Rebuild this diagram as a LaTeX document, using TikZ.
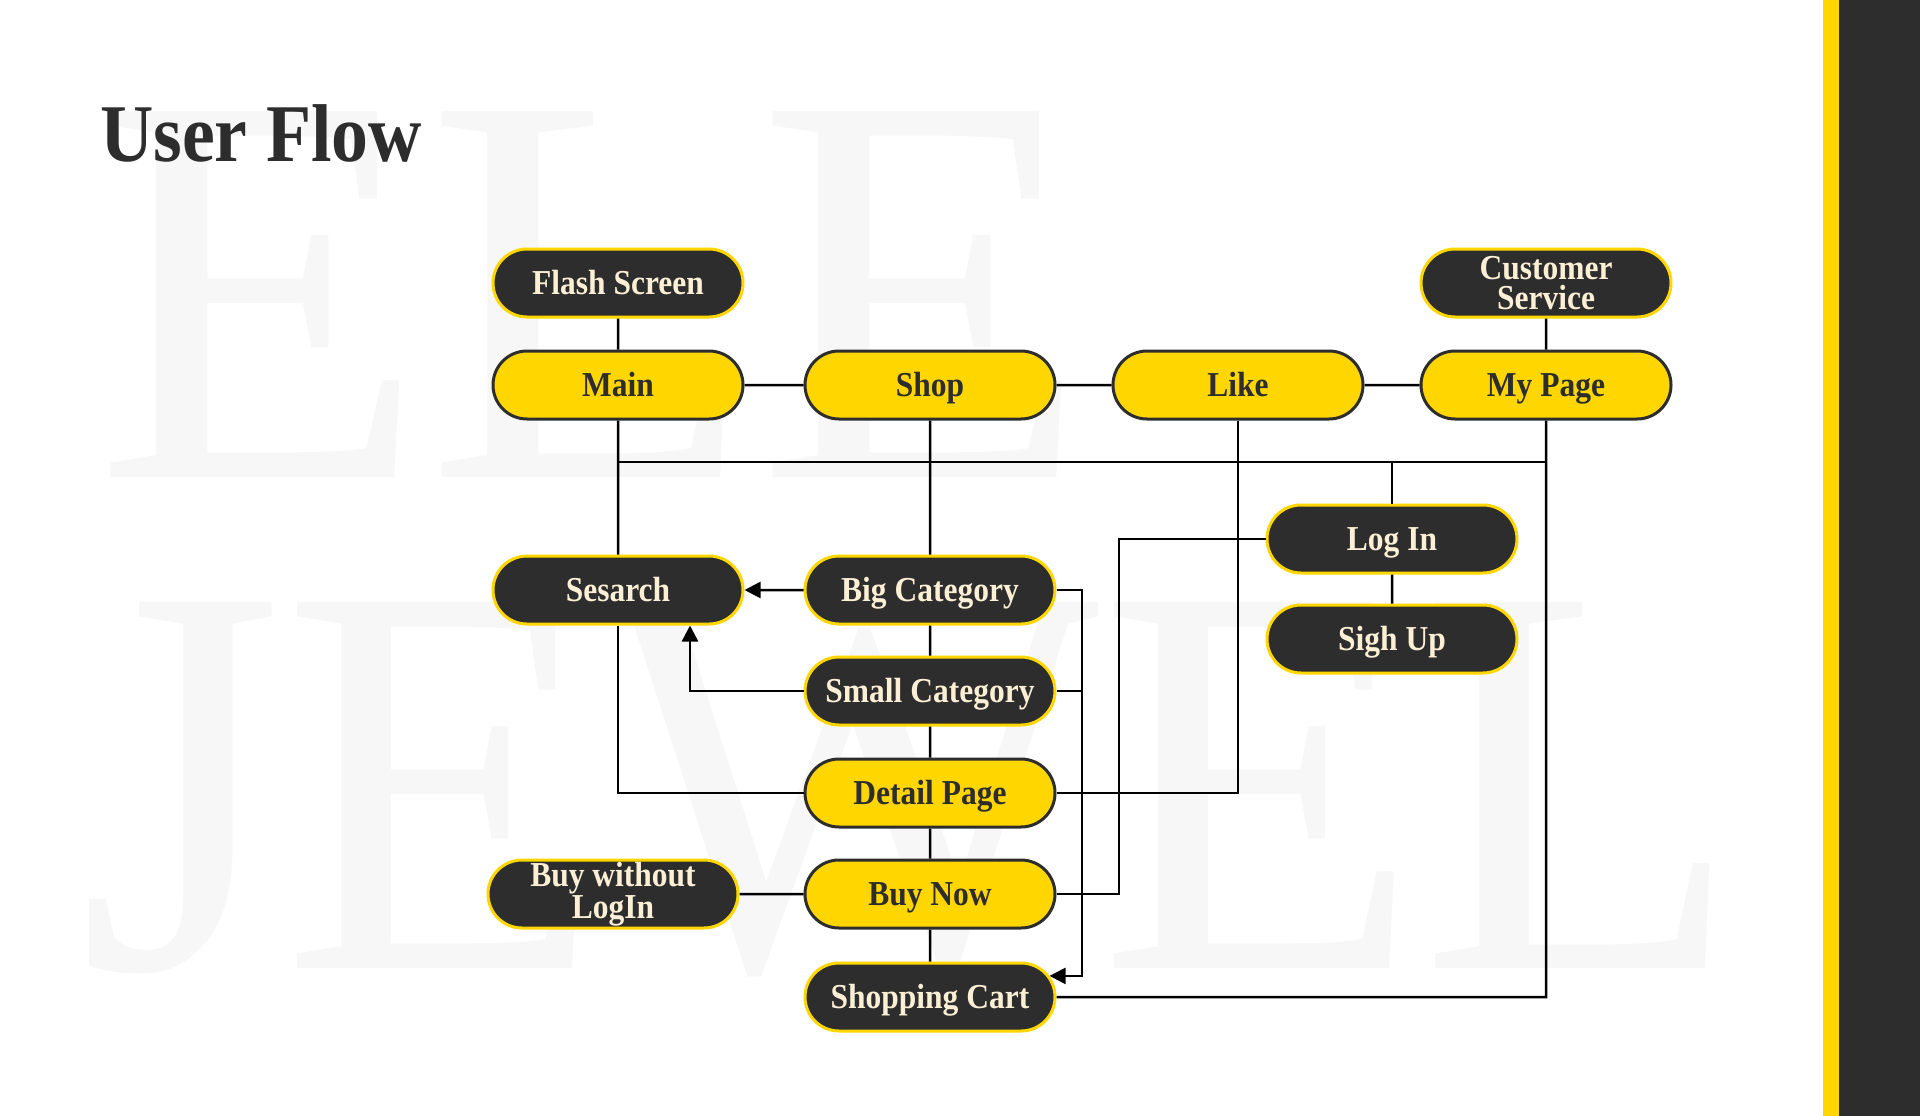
\documentclass[tikz,border=0pt]{standalone}
\usepackage{fontspec}
\setmainfont{Liberation Serif}
\newfontfamily\nodefont[FakeStretch=0.9]{Liberation Serif}
\newfontfamily\wmfontA[FakeStretch=0.97]{Liberation Serif}
\newfontfamily\wmfontB[FakeStretch=0.94]{Liberation Serif}
\usetikzlibrary{shapes.misc,arrows.meta}
\definecolor{ylw}{HTML}{FFD600}
\definecolor{drk}{HTML}{2D2D2D}
\definecolor{crm}{HTML}{FBEFD5}
\definecolor{wmk}{HTML}{F7F7F7}
\begin{document}
\begin{tikzpicture}[x=1pt,y=-1pt,
  base/.style={rounded rectangle, minimum width=250pt, minimum height=68pt, line width=3pt, inner sep=0pt,
    font=\nodefont\bfseries\fontsize{35}{30}\selectfont, align=center, text height=26pt, text depth=4pt},
  twoline/.style={text height=, text depth=},
  ybox/.style={base, fill=ylw, draw=drk, text=drk},
  dbox/.style={base, fill=drk, draw=ylw, text=crm},
  conn/.style={line width=2.5pt, draw=black},
  arr/.style={conn, -{Triangle[length=16pt,width=16pt]}},
  wmtext/.style={anchor=base west, inner sep=0pt, text=wmk}]
\useasboundingbox (0,0) rectangle (1920,1116);
\fill[white] (0,0) rectangle (1920,1116);
% watermark
\node[wmtext, font=\wmfontA\fontsize{559}{559}\selectfont] (wm1) at (95,477) {ELE};
\node[wmtext, font=\wmfontB\fontsize{559}{559}\selectfont] (wm2) at (78,968) {JEWEL};
% right panel
\fill[ylw] (1823,0) rectangle (1839,1116);
\fill[drk] (1839,0) rectangle (1920,1116);
% title
\node[anchor=base west, inner sep=0pt, text=drk, font=\nodefont\bfseries\fontsize{82}{82}\selectfont] (title) at (100,161) {User Flow};
% nodes
\node[dbox] (fs) at (618,283) {Flash Screen};
\node[ybox] (main) at (618,385) {Main};
\node[ybox] (shop) at (930,385) {Shop};
\node[ybox] (like) at (1238,385) {Like};
\node[ybox] (mypage) at (1546,385) {My Page};
\node[dbox, twoline] (cs) at (1546,283) {Customer\\Service};
\node[dbox] (login) at (1392,539) {Log In};
\node[dbox] (signup) at (1392,639) {Sigh Up};
\node[dbox] (search) at (618,590) {Sesarch};
\node[dbox] (bigc) at (930,590) {Big Category};
\node[dbox] (smallc) at (930,691) {Small Category};
\node[ybox] (detail) at (930,793) {Detail Page};
\node[ybox] (buynow) at (930,894) {Buy Now};
\node[dbox] (cart) at (930,997) {Shopping Cart};
\node[dbox, twoline] (bwl) at (613,894) {Buy without\\LogIn};
% helper coordinates
\coordinate (busL) at (618,462);
\coordinate (busR) at (1546,462);
\coordinate (xl) at (1119,0);
\coordinate (xb) at (1082,0);
\coordinate (sx) at (690,0);
% connectors
\draw[conn] (fs) -- (main);
\draw[conn] (main) -- (shop);
\draw[conn] (shop) -- (like);
\draw[conn] (like) -- (mypage);
\draw[conn] (cs) -- (mypage);
\draw[conn] (main) -- (search);
\draw[conn] (busL) -- (busR);
\draw[conn] (login) -- (login |- busR);
\draw[conn] (login) -- (signup);
\draw[conn] (mypage) -- (mypage |- cart) -- (cart);
\draw[conn] (login.west) -| (xl |- buynow) -- (buynow.east);
\draw[conn] (like) |- (detail);
\draw[conn] (shop) -- (bigc);
\draw[arr] (bigc) -- (search);
\draw[arr] (smallc.west) -| (sx |- search.south);
\draw[conn] (search) |- (detail);
\draw[conn] (bigc) -- (smallc);
\draw[conn] (smallc) -- (detail);
\draw[conn] (detail) -- (buynow);
\draw[conn] (buynow) -- (cart);
\draw[conn] (bwl) -- (buynow);
\draw[arr] (bigc.east) -- (bigc.east -| xb) -- (xb |- cart.10) -- (cart.10);
\draw[conn] (smallc.east) -- (smallc.east -| xb);
\end{tikzpicture}
\end{document}
